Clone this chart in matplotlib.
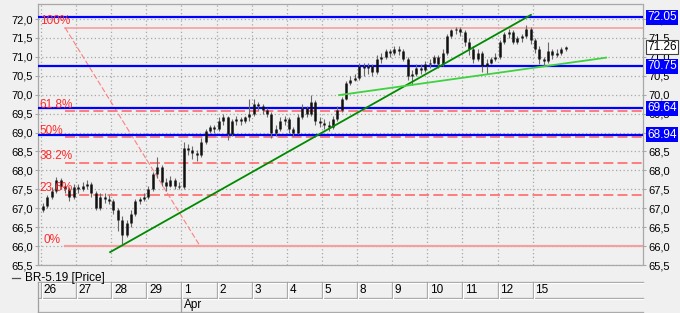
import numpy as np
import matplotlib
matplotlib.use("Agg")
import matplotlib.pyplot as plt
from matplotlib.lines import Line2D

plt.rcParams['font.family'] = ['Liberation Sans', 'DejaVu Sans']

# the data
day_labels = ['26', '27', '28', '29', '1', '2', '3', '4', '5', '8', '9', '10', '11', '12', '15']
month_label = 'Apr'
month_day = 4          # index of "1" in day_labels
bars_per_day = 8

# one line per trading day
opens = [66.95, 67.05, 67.3, 67.45, 67.75, 67.6, 67.5, 67.3,
         67.55, 67.5, 67.6, 67.65, 67.4, 67.0, 67.3, 67.25,
         67.2, 66.95, 66.7, 66.3, 66.6, 66.85, 67.2, 67.25,
         67.3, 67.5, 67.9, 68.1, 67.7, 67.6, 67.75, 67.6,
         67.55, 68.6, 68.55, 68.45, 68.4, 68.75, 69.05, 69.15,
         69.1, 69.3, 69.4, 68.95, 69.3, 69.35, 69.3, 69.4,
         69.5, 69.75, 69.7, 69.6, 69.5, 69.0, 69.1, 69.3,
         69.35, 69.1, 69.0, 69.4, 69.65, 69.5, 69.8, 69.3,
         69.25, 69.2, 69.15, 69.35, 69.6, 69.9, 70.3, 70.4,
         70.45, 70.75, 70.7, 70.75, 70.6, 70.95, 71.0, 71.15,
         71.1, 71.2, 71.15, 70.95, 70.5, 70.55, 70.7, 70.65,
         70.8, 70.85, 71.0, 70.8, 71.1, 71.55, 71.7, 71.75,
         71.65, 71.4, 71.2, 70.95, 71.1, 70.75, 70.85, 70.95,
         71.0, 71.4, 71.6, 71.65, 71.4, 71.5, 71.55, 71.75,
         71.45, 71.2, 70.95, 70.9, 71.15, 71.05, 71.1, 71.2]
highs = [67.15, 67.35, 67.55, 67.82, 67.8, 67.65, 67.55, 67.65,
         67.65, 67.7, 67.75, 67.7, 67.45, 67.4, 67.4, 67.35,
         67.25, 67.0, 66.8, 66.7, 66.95, 67.25, 67.3, 67.4,
         67.6, 67.95, 68.35, 68.15, 67.8, 67.85, 67.8, 67.7,
         68.75, 68.7, 68.65, 68.55, 68.85, 69.1, 69.2, 69.2,
         69.4, 69.5, 69.45, 69.35, 69.45, 69.4, 69.45, 69.9,
         69.9, 69.8, 69.75, 69.65, 69.55, 69.2, 69.4, 69.45,
         69.4, 69.15, 69.5, 69.75, 69.7, 70.0, 69.85, 69.4,
         69.35, 69.3, 69.45, 69.7, 69.95, 70.35, 70.5, 70.55,
         70.85, 70.85, 70.85, 70.8, 71.05, 71.1, 71.2, 71.2,
         71.3, 71.3, 71.2, 71.0, 70.65, 70.8, 70.8, 70.9,
         70.95, 71.05, 71.05, 71.2, 71.6, 71.75, 71.8, 71.8,
         71.7, 71.5, 71.3, 71.2, 71.15, 70.95, 71.0, 71.1,
         71.45, 71.65, 71.75, 71.7, 71.55, 71.6, 71.85, 71.8,
         71.5, 71.3, 71.0, 71.4, 71.2, 71.2, 71.25, 71.3]
lows = [66.9, 67.0, 67.25, 67.4, 67.5, 67.4, 67.2, 67.25,
        67.4, 67.45, 67.5, 67.3, 66.95, 66.95, 67.15, 67.1,
        66.85, 66.4, 66.05, 66.25, 66.5, 66.8, 67.1, 67.2,
        67.25, 67.45, 67.8, 67.6, 67.45, 67.55, 67.5, 67.5,
        67.5, 68.4, 68.3, 68.25, 68.35, 68.7, 69.0, 69.0,
        69.05, 69.2, 68.8, 68.9, 69.2, 69.2, 69.25, 69.3,
        69.45, 69.6, 69.5, 69.4, 68.85, 68.9, 69.05, 69.2,
        69.0, 68.9, 68.95, 69.35, 69.4, 69.45, 69.2, 69.15,
        69.1, 69.05, 69.1, 69.3, 69.55, 69.85, 70.25, 70.35,
        70.4, 70.5, 70.55, 70.5, 70.55, 70.85, 70.95, 71.0,
        71.05, 71.05, 70.9, 70.4, 70.25, 70.5, 70.55, 70.6,
        70.7, 70.8, 70.7, 70.75, 71.05, 71.5, 71.6, 71.55,
        71.3, 71.05, 70.85, 70.9, 70.6, 70.55, 70.8, 70.9,
        70.95, 71.35, 71.5, 71.35, 71.35, 71.4, 71.5, 71.35,
        71.1, 70.8, 70.75, 70.85, 70.95, 71.0, 71.05, 71.15]
closes = [67.05, 67.3, 67.45, 67.75, 67.6, 67.5, 67.3, 67.55,
          67.5, 67.6, 67.65, 67.4, 67.0, 67.3, 67.25, 67.2,
          66.95, 66.7, 66.3, 66.6, 66.85, 67.2, 67.25, 67.3,
          67.5, 67.9, 68.1, 67.7, 67.6, 67.75, 67.6, 67.55,
          68.6, 68.55, 68.45, 68.4, 68.75, 69.05, 69.15, 69.1,
          69.3, 69.4, 68.95, 69.3, 69.35, 69.3, 69.4, 69.5,
          69.75, 69.7, 69.6, 69.5, 69.0, 69.1, 69.3, 69.35,
          69.1, 69.0, 69.4, 69.65, 69.5, 69.8, 69.3, 69.25,
          69.2, 69.15, 69.35, 69.6, 69.9, 70.3, 70.4, 70.45,
          70.75, 70.7, 70.75, 70.6, 70.95, 71.0, 71.15, 71.1,
          71.2, 71.15, 70.95, 70.5, 70.55, 70.7, 70.65, 70.8,
          70.85, 71.0, 70.8, 71.1, 71.55, 71.7, 71.75, 71.65,
          71.4, 71.2, 70.95, 71.1, 70.75, 70.85, 70.95, 71.0,
          71.4, 71.6, 71.65, 71.4, 71.5, 71.55, 71.75, 71.45,
          71.2, 70.95, 70.9, 71.15, 71.05, 71.1, 71.2, 71.26]

blue_levels = [72.05, 70.75, 69.64, 68.94]
last_price = 71.26
fib_low, fib_high = 66.0, 71.77
fib_ratios = [0.0, 0.236, 0.382, 0.5, 0.618, 1.0]
fib_names = ['0%', '23.6%', '38.2%', '50%', '61.8%', '100%']
fib_x = [0.69, 4.53]            # start of fib tool / end of its diagonal (day units)
trend_dark_x = [1.97, 13.95]
trend_dark_y = [65.84, 72.11]
trend_light_x = [8.49, 16.09]
trend_light_y = [69.99, 70.98]

# figure layout (pixels)
W, H = 680, 313
BG = '#f0f0f0'
GRID = '#a8a8a8'
x0, x1, ytop, ybot = 38.3, 643, 4.3, 265

fig = plt.figure(figsize=(W / 100, H / 100), dpi=100, facecolor=BG)
ax = fig.add_axes([x0 / W, 1 - ybot / H, (x1 - x0) / W, (ybot - ytop) / H])
ax.set_facecolor(BG)
ax.set_xlim(-0.074, 17.14)
ax.set_ylim(65.5, 72.39)

# grid
yt = np.arange(65.5, 72.01, 0.5)
ax.set_yticks(yt)
ax.set_yticklabels([f"{v:.1f}".replace('.', ',') for v in yt])
ax.set_xticks(np.arange(len(day_labels)))
ax.set_xticklabels([])
ax.grid(True, color=GRID, ls=(0, (1, 2)), lw=0.9)
ax.tick_params(axis='x', length=0)
ax.tick_params(axis='y', left=True, right=True, labelleft=True, labelright=True,
               length=2, pad=2, labelsize=8, color=GRID)
for s in ax.spines.values():
    s.set_color(GRID)
    s.set_linestyle((0, (1, 1)))
    s.set_linewidth(0.9)

# fibonacci levels
for r, name in zip(fib_ratios, fib_names):
    lvl = fib_low + r * (fib_high - fib_low)
    if r in (0.0, 1.0):
        ax.plot([fib_x[0], ax.get_xlim()[1]], [lvl, lvl], color='#f4a0a0',
                lw=1.6 if r == 0 else 1.2, zorder=2)
    else:
        ax.plot([fib_x[0], ax.get_xlim()[1]], [lvl, lvl], color='#ff6a6a',
                lw=1.2, ls=(0, (6, 2.5)), zorder=2)
    tx = 0.06 if r == 0 else -0.03
    ax.text(tx, lvl + 0.01, name, color='#ff2a2a', fontsize=8.5,
            va='bottom', ha='left', zorder=5)
ax.plot(fib_x, [fib_high, fib_low], color='#ff8080', lw=0.8,
        ls=(0, (5, 2)), zorder=2)

# blue horizontal levels
for v in blue_levels:
    ax.axhline(v, color='#0000ff', lw=1.6, zorder=3)

# candles
n = len(closes)
xs = (np.arange(n) + 0.5) / bars_per_day
o = np.array(opens)
c = np.array(closes)
lo_body = np.minimum(o, c)
hi_body = np.maximum(np.maximum(o, c), lo_body + 0.04)
ax.vlines(xs, lows, highs, color='#6a6a6a', lw=0.8, zorder=4)
ax.vlines(xs, lo_body, hi_body, color='#111111', lw=1.8, zorder=4)

# trend lines
ax.plot(trend_dark_x, trend_dark_y, color='#008a00', lw=1.3, zorder=5)
ax.plot(trend_light_x, trend_light_y, color='#3fd23f', lw=1.3, zorder=5)

# right-hand price boxes
tr = ax.get_yaxis_transform()
for v in blue_levels:
    ax.text(1.0068, v, f"{v:.2f}", transform=tr, clip_on=False, fontsize=8.5,
            color='white', ha='left', va='center', zorder=10,
            bbox=dict(boxstyle='square,pad=0.12', fc='#0000ff', ec='none'))
ax.text(1.0068, last_price, f"{last_price:.2f}", transform=tr, clip_on=False,
        fontsize=8.5, color='black', ha='left', va='center', zorder=10,
        bbox=dict(boxstyle='square,pad=0.12', fc='white', ec='#404040', lw=0.8))

# date band under the chart
ax2 = fig.add_axes([x0 / W, 0, (x1 - x0) / W, 32 / H])
ax2.set_xlim(ax.get_xlim())
ax2.set_ylim(313, 281)
ax2.axis('off')
xl = ax.get_xlim()
for yy in (282, 297.5, 312):
    ax2.plot(xl, [yy, yy], color='#a0a0a0', lw=0.9, clip_on=False)
    ax2.plot(xl, [yy + 1, yy + 1], color='white', lw=0.9, clip_on=False)
ax2.plot([xl[0], xl[0]], [282, 312], color='#a0a0a0', lw=0.9, clip_on=False)
for i, lab in enumerate(day_labels):
    xb = max(i, xl[0] + 0.01)
    ax2.plot([xb, xb], [282, 297.5], color='#a0a0a0', lw=0.9)
    ax2.plot([xb + 0.03, xb + 0.03], [283, 297.5], color='white', lw=0.9)
    ax2.text(xb + 0.08, 290, lab, fontsize=8.5, va='center', ha='left')
ax2.plot([month_day, month_day], [297.5, 312], color='#a0a0a0', lw=0.9)
ax2.text(month_day + 0.08, 305, month_label, fontsize=8.5, va='center', ha='left')

# legend line
fig.add_artist(Line2D([12 / W, 20 / W], [1 - 278 / H, 1 - 278 / H], color='#505050', lw=0.9))
fig.text(25 / W, 1 - 278 / H, 'BR-5.19 [Price]', fontsize=8.5, va='center', ha='left')

fig.savefig('out.png', dpi=100, facecolor=BG)
